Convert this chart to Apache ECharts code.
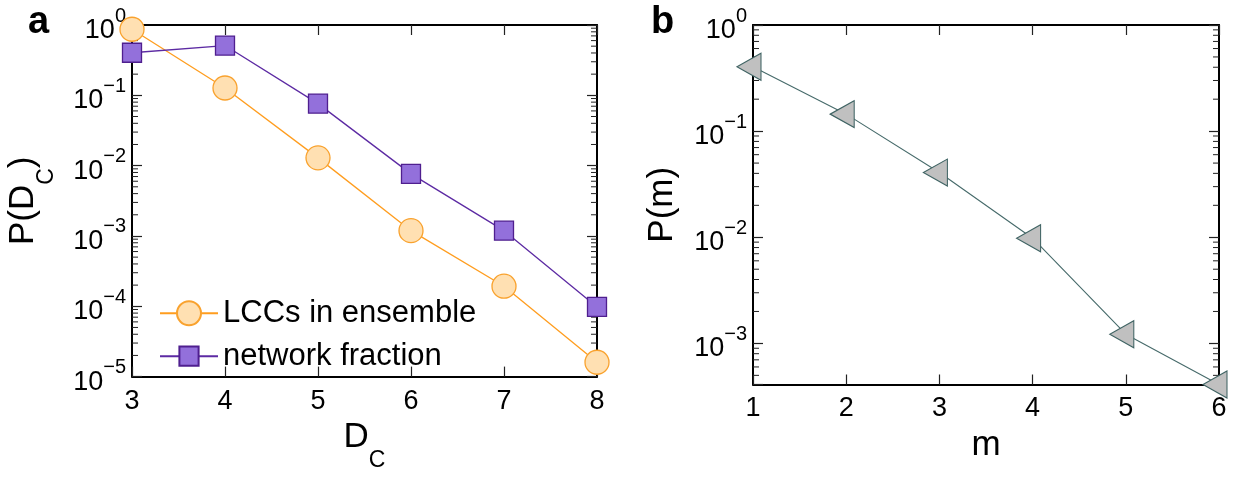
<!DOCTYPE html>
<html>
<head>
<meta charset="utf-8">
<script src="https://cdn.jsdelivr.net/npm/echarts@6/dist/echarts.min.js"></script>
<style>
  html, body { margin: 0; padding: 0; background: #fff; }
  #chart { width: 1238px; height: 477px; }
</style>
</head>
<body>
<div id="chart"></div>
<script>
// Panel a: probability of component diameter D_C
const dcValues = [3, 4, 5, 6, 7, 8];
const lccEnsemble = [0.87, 0.127, 0.0129, 0.00119, 0.000193, 0.000016];
const networkFraction = [0.403, 0.51, 0.0762, 0.00764, 0.00119, 0.000098];

// Panel b: probability of m
const mValues = [1, 2, 3, 4, 5, 6];
const pOfM = [0.404, 0.1446, 0.0407, 0.0098, 0.00122, 0.00041];

const seriesNames = ['LCCs in ensemble', 'network fraction'];
const panelLabels = ['a', 'b'];
const xTitles = ['D{s|C}', 'm'];
const yTitles = ['P(D{s|C})', 'P(m)'];

// axis ranges
const xRangeA = [3, 8];
const xRangeB = [1, 6];
const yRangeA = [1e-5, 1];
const yRangeB = [0.00041, 1];

// log-axis minor tick mantissas
const minorMantissas = [2, 3, 4, 5, 6, 7, 8, 9];

const FONT = 'Liberation Sans, Arial, Helvetica, sans-serif';

function minorTickValues(yMin, yMax) {
  const out = [];
  for (let k = Math.floor(Math.log10(yMin)); k < Math.ceil(Math.log10(yMax)); k++) {
    minorMantissas.forEach(function (m) {
      const v = m * Math.pow(10, k);
      if (v >= yMin && v <= yMax) out.push(v);
    });
  }
  return out;
}

function logLabel(v) {
  const l = Math.log10(v);
  const e = Math.round(l);
  if (Math.abs(l - e) > 1e-6) return '';
  return '{b|10}{s|' + (e < 0 ? '\u2212' + (-e) : String(e)) + '}';
}

const tickLabelRich = {
  b: { fontSize: 27, lineHeight: 38, verticalAlign: 'bottom', fontFamily: FONT, color: '#000' },
  s: { fontSize: 20, lineHeight: 19, verticalAlign: 'top', fontFamily: FONT, color: '#000' }
};

const titleRich = {
  m: { fontSize: 35, lineHeight: 36, verticalAlign: 'top', fontFamily: FONT, color: '#000' },
  s: { fontSize: 23, lineHeight: 82, verticalAlign: 'middle', fontFamily: FONT, color: '#000' }
};

function wrapTitle(t) {
  // tag every plain run so all tokens share the same rich style rules
  return t.split(/(\{s\|[^}]*\})/).filter(Boolean).map(function (p) {
    return p.indexOf('{s|') === 0 ? p : '{m|' + p + '}';
  }).join('');
}

const axisLineStyle = { show: true, onZero: false, lineStyle: { color: '#000', width: 2 } };

function xAxes(grid, range, title) {
  return [
    {
      type: 'value', gridIndex: grid, position: 'bottom', min: range[0], max: range[1], interval: 1,
      axisLine: axisLineStyle,
      axisTick: { inside: true, length: 10, lineStyle: { color: '#222', width: 1.2 } },
      axisLabel: { fontSize: 27, lineHeight: 27, margin: 11, color: '#000', fontFamily: FONT },
      splitLine: { show: false },
      name: wrapTitle(title), nameLocation: 'middle', nameGap: 38,
      nameTextStyle: { rich: titleRich }
    },
    {
      type: 'value', gridIndex: grid, position: 'top', min: range[0], max: range[1], interval: 1,
      axisLine: axisLineStyle,
      axisTick: { inside: true, length: 10, lineStyle: { color: '#222', width: 1.2 } },
      axisLabel: { show: false },
      splitLine: { show: false }
    }
  ];
}

function yAxes(grid, range, title, gap) {
  return [
    {
      type: 'log', logBase: 10, gridIndex: grid, position: 'left', min: range[0], max: range[1],
      axisLine: axisLineStyle,
      axisTick: { inside: true, length: 10, lineStyle: { color: '#222', width: 1.2 } },
      axisLabel: { formatter: logLabel, margin: 6, rich: tickLabelRich },
      splitLine: { show: false },
      name: wrapTitle(title), nameLocation: 'middle', nameRotate: 90, nameGap: gap,
      nameTextStyle: { rich: titleRich }
    },
    {
      type: 'log', logBase: 10, gridIndex: grid, position: 'right', min: range[0], max: range[1],
      axisLine: axisLineStyle,
      axisTick: { inside: true, length: 10, lineStyle: { color: '#222', width: 1.2 } },
      axisLabel: { show: false },
      splitLine: { show: false }
    }
  ];
}

function minorTickSeries(xAxisIndex, yAxisIndex, xRange, yRange) {
  return {
    type: 'custom', xAxisIndex: xAxisIndex, yAxisIndex: yAxisIndex, silent: true, z: 1, clip: false,
    data: minorTickValues(yRange[0], yRange[1]).map(function (v) { return [xRange[0], v]; }),
    encode: { x: 0, y: 1 },
    renderItem: function (params, api) {
      const v = api.value(1);
      const pl = api.coord([xRange[0], v]);
      const pr = api.coord([xRange[1], v]);
      const len = 6;
      const st = { stroke: '#222', lineWidth: 1 };
      return {
        type: 'group',
        children: [
          { type: 'line', shape: { x1: pl[0], y1: pl[1], x2: pl[0] + len, y2: pl[1] }, style: st },
          { type: 'line', shape: { x1: pr[0], y1: pr[1], x2: pr[0] - len, y2: pr[1] }, style: st }
        ]
      };
    }
  };
}

function zip(xs, ys) { return xs.map(function (x, i) { return [x, ys[i]]; }); }

const chart = echarts.init(document.getElementById('chart'), null, { renderer: 'canvas' });

chart.setOption({
  animation: false,
  backgroundColor: '#fff',
  grid: [
    { left: 132, top: 25, width: 465, height: 359.5 },
    { left: 753, top: 25, width: 466, height: 359.5 }
  ],
  xAxis: xAxes(0, xRangeA, xTitles[0]).concat(xAxes(1, xRangeB, xTitles[1])),
  yAxis: yAxes(0, yRangeA, yTitles[0], 44).concat(yAxes(1, yRangeB, yTitles[1], 72)),
  legend: [
    {
      data: [seriesNames[0]], left: 159, top: 297.7, padding: 0, orient: 'vertical',
      itemWidth: 58, itemHeight: 30, selectedMode: false,
      textStyle: { fontSize: 31, lineHeight: 30, color: '#000', fontFamily: FONT }
    },
    {
      data: [seriesNames[1]], left: 159, top: 340.7, padding: 0, orient: 'vertical',
      itemWidth: 58, itemHeight: 24, selectedMode: false,
      textStyle: { fontSize: 31, lineHeight: 24, color: '#000', fontFamily: FONT }
    }
  ],
  graphic: [
    { type: 'text', left: 28, top: 4, style: { text: panelLabels[0], font: 'bold 38px ' + FONT, fill: '#000' } },
    { type: 'text', left: 651, top: 4, style: { text: panelLabels[1], font: 'bold 38px ' + FONT, fill: '#000' } }
  ],
  series: [
    minorTickSeries(0, 0, xRangeA, yRangeA),
    minorTickSeries(2, 2, xRangeB, yRangeB),
    {
      name: seriesNames[0], type: 'line', xAxisIndex: 0, yAxisIndex: 0, clip: false, z: 3,
      data: zip(dcValues, lccEnsemble),
      symbol: 'circle', symbolSize: 24,
      itemStyle: { color: '#ffe0b2', borderColor: '#f9a22e', borderWidth: 1.3 },
      lineStyle: { color: '#ff9d1e', width: 1.3 },
      emphasis: { disabled: true }
    },
    {
      name: seriesNames[1], type: 'line', xAxisIndex: 0, yAxisIndex: 0, clip: false, z: 4,
      data: zip(dcValues, networkFraction),
      symbol: 'rect', symbolSize: 19,
      itemStyle: { color: '#9370db', borderColor: '#4f1f8f', borderWidth: 1.3 },
      lineStyle: { color: '#5c2aa3', width: 1.3 },
      emphasis: { disabled: true }
    },
    {
      name: 'P(m)', type: 'line', xAxisIndex: 2, yAxisIndex: 2, clip: false, z: 3,
      data: zip(mValues, pOfM),
      symbol: 'triangle', symbolSize: [27, 24], symbolRotate: 90, symbolOffset: [-4, 0],
      itemStyle: { color: '#c0c0c0', borderColor: '#3f6363', borderWidth: 1.1 },
      lineStyle: { color: '#466a6a', width: 1.1 },
      emphasis: { disabled: true }
    }
  ]
});
</script>
</body>
</html>
